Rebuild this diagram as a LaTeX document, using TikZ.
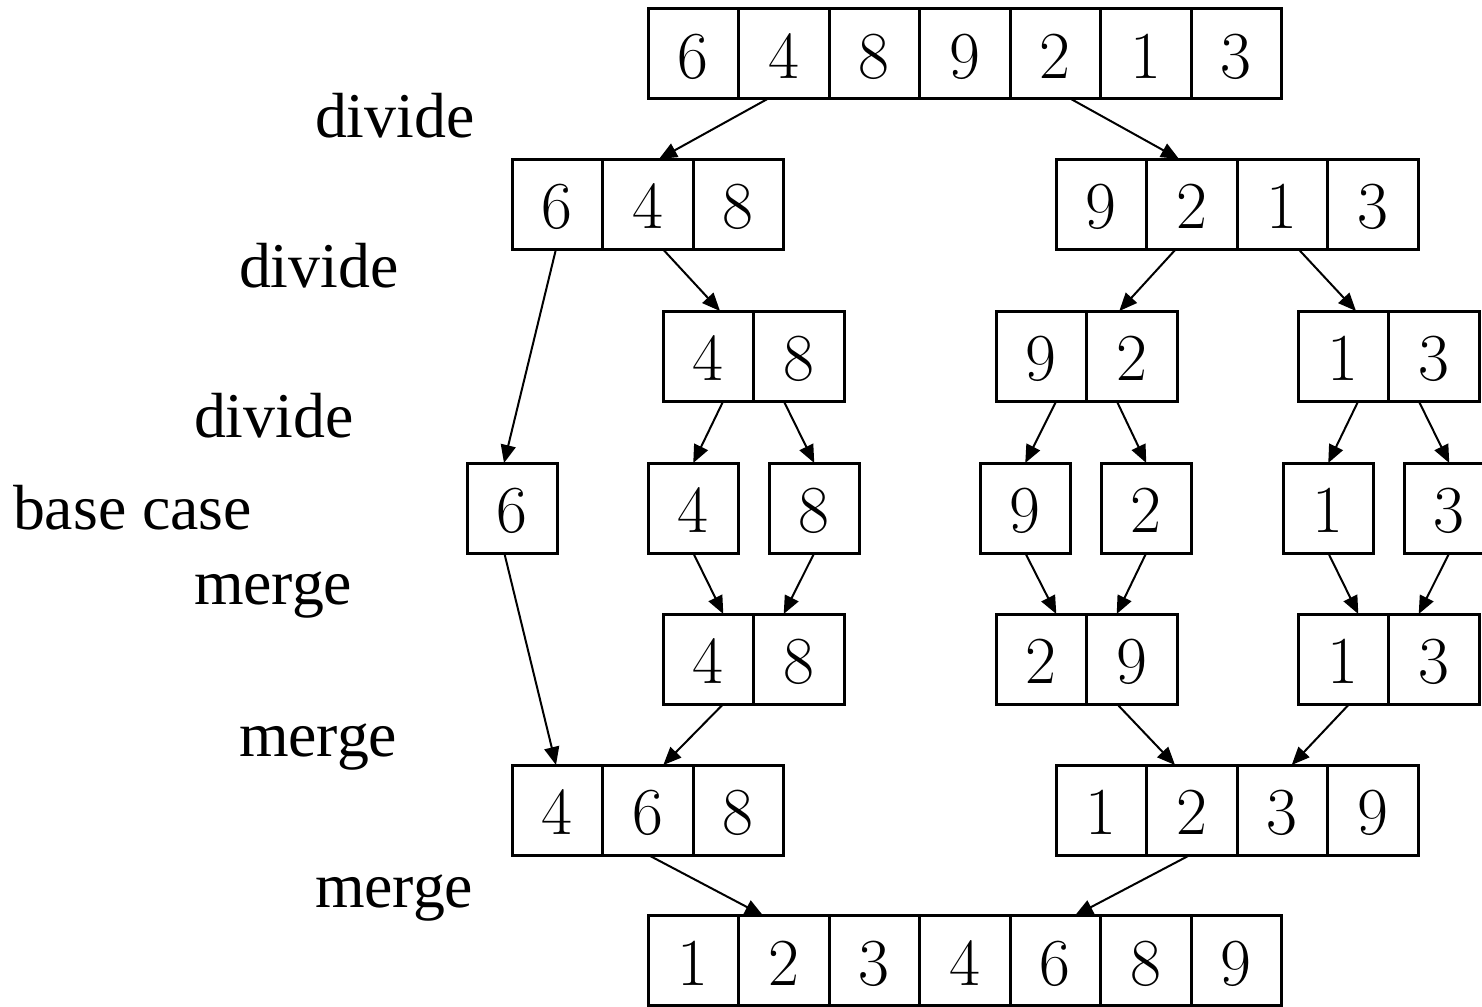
\documentclass[tikz,border=0pt]{standalone}
\usepackage{fontspec}
\newfontfamily\labfont{Liberation Serif}
\usetikzlibrary{calc,arrows.meta}
\tikzset{
  arrbox/.style={inner sep=0pt, outer sep=0pt, minimum height=45pt},
  cell/.style={draw, line width=1.5pt, inner sep=0pt, outer sep=0pt, minimum width=45.25pt, minimum height=45pt, text height=24.6pt, text depth=0pt, font=\fontsize{33.6}{40}\selectfont},
  conn/.style={line width=1pt, -{Triangle[length=9pt,width=7.5pt]}},
  lab/.style={font=\labfont\fontsize{31.9}{38}\selectfont, inner sep=0pt, outer sep=0pt, anchor=base west},
}
% name, x-left, y-top, number of cells, list
\newcommand\arr[5]{%
  \node[arrbox, minimum width=#4*45.25pt, anchor=north west] (#1) at (#2,#3) {};
  \foreach \v [count=\i from 0] in {#5} {
    \node[cell, anchor=north west] (#1-\i) at ($(#1.north west)+(\i*90.5,0)$) {\v};
  }
}
\begin{document}
\begin{tikzpicture}[x=0.5pt,y=-0.5pt]
\useasboundingbox (0,0) rectangle (1482,1006);
% arrays
\arr{r1}{648}{9}{7}{6,4,8,9,2,1,3}
\arr{r2l}{512}{159}{3}{6,4,8}
\arr{r2r}{1056}{159}{4}{9,2,1,3}
\arr{r3a}{663}{311}{2}{4,8}
\arr{r3b}{996}{311}{2}{9,2}
\arr{r3c}{1298}{311}{2}{1,3}
\arr{r4a}{467}{463}{1}{6}
\arr{r4b}{648}{463}{1}{4}
\arr{r4c}{769}{463}{1}{8}
\arr{r4d}{980}{463}{1}{9}
\arr{r4e}{1101}{463}{1}{2}
\arr{r4f}{1283}{463}{1}{1}
\arr{r4g}{1404}{463}{1}{3}
\arr{r5a}{663}{614}{2}{4,8}
\arr{r5b}{996}{614}{2}{2,9}
\arr{r5c}{1298}{614}{2}{1,3}
\arr{r6l}{512}{765}{3}{4,6,8}
\arr{r6r}{1056}{765}{4}{1,2,3,9}
\arr{r7}{648}{915.5}{7}{1,2,3,4,6,8,9}
% labels
\node[lab] (l1) at (315,137) {divide};
\node[lab] (l2) at (239,287) {divide};
\node[lab] (l3) at (194,437) {divide};
\node[lab] (l4) at (13,529) {base case};
\node[lab] (l5) at (194,604) {merge};
\node[lab] (l6) at (239,756) {merge};
\node[lab] (l7) at (315,907) {merge};
% connectors
\draw[conn] ($(r1.south west)+(119.4,0)$) -- ($(r2l.north west)+(147,0)$);
\draw[conn] ($(r1.south west)+(423,0)$) -- ($(r2r.north west)+(123,0)$);
\draw[conn] ($(r2l.south west)+(44,0)$) -- ($(r4a.north west)+(37,0)$);
\draw[conn] ($(r2l.south west)+(150.7,0)$) -- ($(r3a.north west)+(57,0)$);
\draw[conn] ($(r2r.south west)+(120,0)$) -- ($(r3b.north west)+(123.3,0)$);
\draw[conn] ($(r2r.south west)+(242.3,0)$) -- ($(r3c.north west)+(58,0)$);
\draw[conn] ($(r3a.south west)+(60.3,0)$) -- (r4b.north);
\draw[conn] ($(r3a.south west)+(120.7,0)$) -- (r4c.north);
\draw[conn] ($(r3b.south west)+(60.3,0)$) -- (r4d.north);
\draw[conn] ($(r3b.south west)+(120.7,0)$) -- (r4e.north);
\draw[conn] ($(r3c.south west)+(60.3,0)$) -- (r4f.north);
\draw[conn] ($(r3c.south west)+(120.7,0)$) -- (r4g.north);
\draw[conn] (r4b.south) -- ($(r5a.north west)+(60.3,0)$);
\draw[conn] (r4c.south) -- ($(r5a.north west)+(120.7,0)$);
\draw[conn] (r4d.south) -- ($(r5b.north west)+(60.3,0)$);
\draw[conn] (r4e.south) -- ($(r5b.north west)+(120.7,0)$);
\draw[conn] (r4f.south) -- ($(r5c.north west)+(60.3,0)$);
\draw[conn] (r4g.south) -- ($(r5c.north west)+(120.7,0)$);
\draw[conn] ($(r4a.south west)+(37.3,0)$) -- ($(r6l.north west)+(44,0)$);
\draw[conn] ($(r5a.south west)+(60.3,0)$) -- ($(r6l.north west)+(151.3,0)$);
\draw[conn] ($(r5b.south west)+(121,0)$) -- ($(r6r.north west)+(119,0)$);
\draw[conn] ($(r5c.south west)+(51.3,0)$) -- ($(r6r.north west)+(235.7,0)$);
\draw[conn] ($(r6l.south west)+(136.3,0)$) -- ($(r7.north west)+(115,0)$);
\draw[conn] ($(r6r.south west)+(134,0)$) -- ($(r7.north west)+(427,0)$);
\end{tikzpicture}
\end{document}
